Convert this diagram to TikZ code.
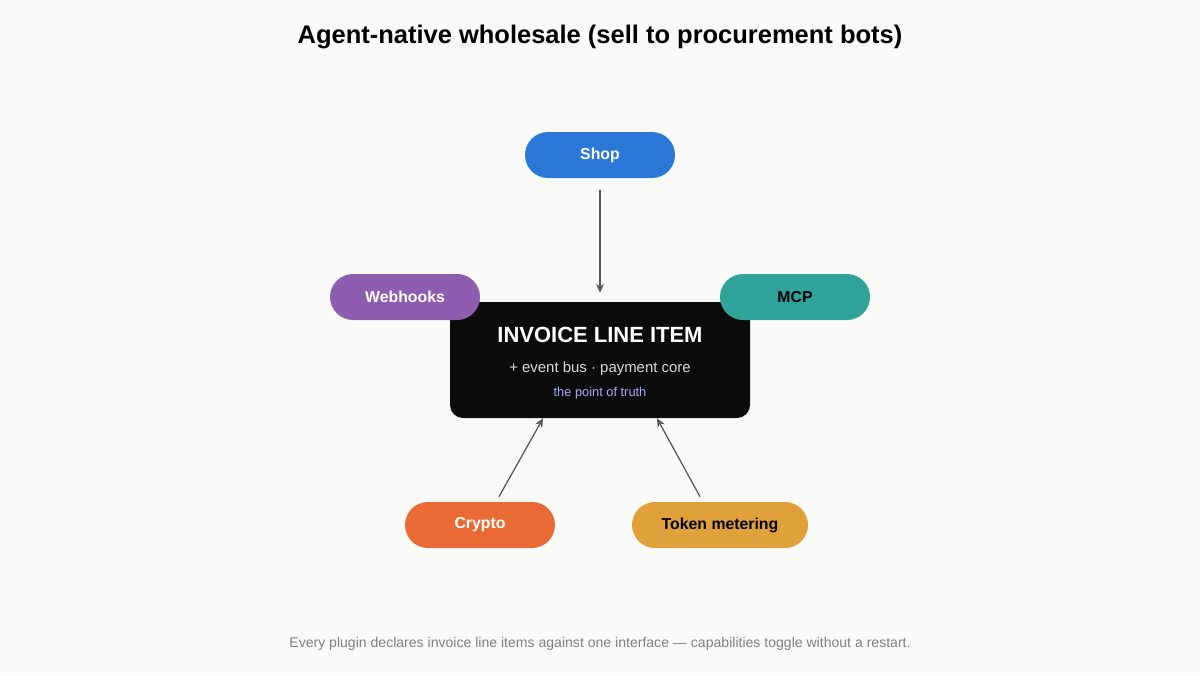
\documentclass[tikz,border=0pt]{standalone}
\usepackage{fontspec}
\setmainfont{Liberation Sans}
\usepackage{tikz}
\usetikzlibrary{shapes.geometric, arrows, positioning}
\definecolor{bg}{HTML}{FAFAF8}
\definecolor{shopblue}{HTML}{2B78D8}
\definecolor{hookpurple}{HTML}{8E5DB0}
\definecolor{mcpteal}{HTML}{2FA39A}
\definecolor{cryptoorange}{HTML}{EA6A35}
\definecolor{tokenyellow}{HTML}{E0A03A}
\definecolor{corebox}{HTML}{0B0B0B}
\definecolor{arrowgrey}{HTML}{555555}
\tikzstyle{plugin} = [rectangle, rounded corners=0.46cm, minimum width=3cm, minimum height=0.92cm, text centered, font=\fontsize{9}{11}\selectfont\bfseries]
\tikzstyle{core} = [rectangle, rounded corners=0.26cm, minimum width=6cm, minimum height=2.32cm, fill=corebox, text centered]
\tikzstyle{arrow} = [draw=arrowgrey, line width=0.7pt, -{Stealth[length=5pt,width=4.5pt]}]
\usetikzlibrary{arrows.meta}

\begin{document}
\begin{tikzpicture}
        \fill[bg] (0,0) rectangle (24,-13.5);
        \useasboundingbox (0,0) rectangle (24,-13.5);
        \node (title) at (12,-0.74) {\fontsize{14.5}{17}\selectfont\bfseries Agent-native wholesale (sell to procurement bots)};
        \node (box) [core] at (12,-7.2) {};
        \node (boxtitle) [text=white] at (12,-6.7) {\fontsize{12.5}{15}\selectfont\bfseries INVOICE LINE ITEM};
        \node (boxsub) [text=white!85!black] at (12,-7.38) {\fontsize{8.5}{10}\selectfont + event bus · payment core};
        \node (boxnote) [text=blue!35!white] at (12,-7.86) {\fontsize{7.3}{9}\selectfont the point of truth};
        \node (shop) [plugin, fill=shopblue, text=white] at (12,-3.1) {Shop};
        \node (webhooks) [plugin, fill=hookpurple, text=white] at (8.1,-5.94) {Webhooks};
        \node (mcp) [plugin, fill=mcpteal, text=black] at (15.9,-5.94) {MCP};
        \node (crypto) [plugin, fill=cryptoorange, text=white] at (9.6,-10.5) {Crypto};
        \node (token) [plugin, fill=tokenyellow, text=black, minimum width=3.52cm] at (14.4,-10.5) {Token metering};
        \draw [arrow, shorten <=0.24cm, shorten >=0.18cm] (shop) -- (box);
        \draw [arrow] ([xshift=0.38cm, yshift=0.1cm]crypto.north) -- ([xshift=-1.14cm]box.south);
        \draw [arrow] ([xshift=-0.4cm, yshift=0.1cm]token.north) -- ([xshift=1.14cm]box.south);
        \node (footer) [text=black!50] at (12,-12.88) {\fontsize{8}{10}\selectfont Every plugin declares invoice line items against one interface — capabilities toggle without a restart.};
      \end{tikzpicture}
\end{document}
